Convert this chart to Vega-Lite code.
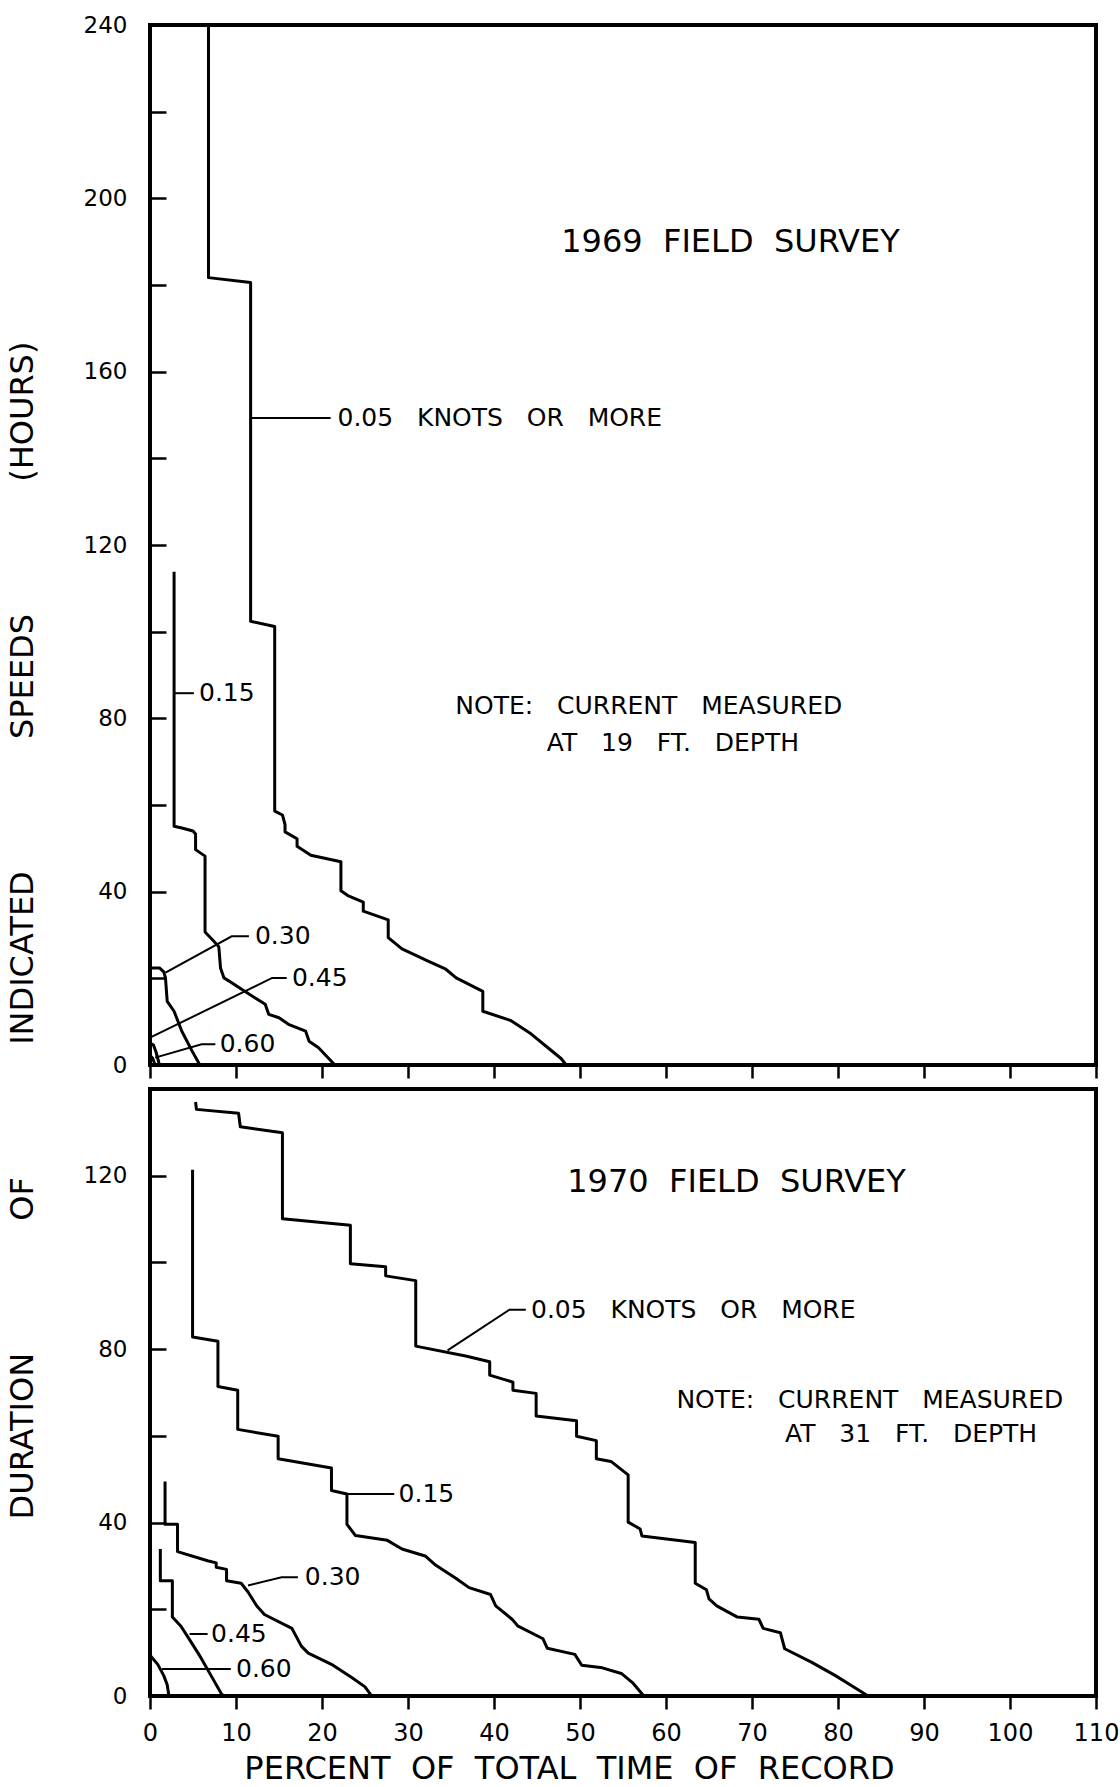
{
  "$schema": "https://vega.github.io/schema/vega-lite/v6.json",
  "background": "white",
  "padding": {"left": 4, "top": 12, "right": 0, "bottom": 0},
  "spacing": 24,
  "bounds": "flush",
  "config": {
    "view": {"stroke": "black", "strokeWidth": 4},
    "axis": {"domain": false, "grid": false, "tickColor": "black", "tickWidth": 2.5, "labelColor": "black", "labelFont": "DejaVu Sans", "labelFontSize": 23, "labelFlush": false, "labelOverlap": false, "titleColor": "black", "titleFont": "DejaVu Sans", "titleFontWeight": "normal"},
    "text": {"font": "DejaVu Sans", "color": "black"},
    "line": {"color": "black"}
  },
  "datasets": {
    "c69": [
      {"s":"0.05","x":6.8,"y":240},{"s":"0.05","x":6.8,"y":181.7},{"s":"0.05","x":11.7,"y":180.6},{"s":"0.05","x":11.7,"y":102.4},{"s":"0.05","x":14.5,"y":101.2},{"s":"0.05","x":14.5,"y":58.6},{"s":"0.05","x":15.4,"y":57.7},{"s":"0.05","x":15.7,"y":55.5},{"s":"0.05","x":15.7,"y":53.8},{"s":"0.05","x":17.1,"y":52.2},{"s":"0.05","x":17.1,"y":50.5},{"s":"0.05","x":18.7,"y":48.4},{"s":"0.05","x":22.2,"y":46.9},{"s":"0.05","x":22.2,"y":40.2},{"s":"0.05","x":23.0,"y":39.1},{"s":"0.05","x":24.8,"y":37.6},{"s":"0.05","x":24.8,"y":35.5},{"s":"0.05","x":27.7,"y":33.5},{"s":"0.05","x":27.7,"y":29.4},{"s":"0.05","x":29.3,"y":26.8},{"s":"0.05","x":32.4,"y":23.9},{"s":"0.05","x":34.4,"y":22.1},{"s":"0.05","x":35.6,"y":20.1},{"s":"0.05","x":38.7,"y":17.0},{"s":"0.05","x":38.7,"y":12.4},{"s":"0.05","x":41.9,"y":10.3},{"s":"0.05","x":44.3,"y":7.2},{"s":"0.05","x":46.2,"y":4.1},{"s":"0.05","x":47.8,"y":1.5},{"s":"0.05","x":48.4,"y":0},
      {"s":"0.15","x":2.8,"y":113.8},{"s":"0.15","x":2.8,"y":55.1},{"s":"0.15","x":3.7,"y":54.7},{"s":"0.15","x":5.0,"y":54.0},{"s":"0.15","x":5.3,"y":53.3},{"s":"0.15","x":5.3,"y":49.7},{"s":"0.15","x":6.4,"y":48.2},{"s":"0.15","x":6.4,"y":30.7},{"s":"0.15","x":7.4,"y":28.6},{"s":"0.15","x":8.0,"y":27.3},{"s":"0.15","x":8.2,"y":22.4},{"s":"0.15","x":8.6,"y":20.1},{"s":"0.15","x":9.5,"y":19.0},{"s":"0.15","x":10.7,"y":17.4},{"s":"0.15","x":13.4,"y":14.0},{"s":"0.15","x":13.8,"y":11.7},{"s":"0.15","x":15.0,"y":10.9},{"s":"0.15","x":16.1,"y":9.4},{"s":"0.15","x":18.1,"y":7.8},{"s":"0.15","x":18.5,"y":5.5},{"s":"0.15","x":19.6,"y":4.0},{"s":"0.15","x":21.5,"y":0},
      {"s":"0.30","x":0,"y":22.4},{"s":"0.30","x":1.1,"y":22.4},{"s":"0.30","x":1.6,"y":21.5},{"s":"0.30","x":1.8,"y":20.1},{"s":"0.30","x":2.0,"y":14.7},{"s":"0.30","x":2.8,"y":12.4},{"s":"0.30","x":3.7,"y":7.8},{"s":"0.30","x":4.9,"y":3.2},{"s":"0.30","x":5.8,"y":0},
      {"s":"0.45","x":0,"y":5.1},{"s":"0.45","x":0.4,"y":4.6},{"s":"0.45","x":0.7,"y":3.0},{"s":"0.45","x":1.1,"y":0},
      {"s":"0.60","x":0,"y":2.2},{"s":"0.60","x":0.3,"y":1.6},{"s":"0.60","x":0.6,"y":0}
    ],
    "l69": [
      {"id":"a","x":11.7,"y":149.3},{"id":"a","x":21.0,"y":149.3},
      {"id":"b","x":2.8,"y":85.8},{"id":"b","x":5.1,"y":85.8},
      {"id":"c","x":1.8,"y":21.3},{"id":"c","x":9.5,"y":29.7},{"id":"c","x":11.5,"y":29.7},
      {"id":"d","x":0,"y":6.3},{"id":"d","x":14.2,"y":20.1},{"id":"d","x":15.9,"y":20.1},
      {"id":"e","x":0.6,"y":1.7},{"id":"e","x":6.0,"y":4.8},{"id":"e","x":7.6,"y":4.8}
    ],
    "t69": [
      {"k":"label","t":"0.05\u00a0\u00a0 KNOTS\u00a0\u00a0 OR\u00a0\u00a0 MORE","x":21.8,"y":149.3},
      {"k":"label","t":"0.15","x":5.7,"y":85.8},
      {"k":"label","t":"0.30","x":12.2,"y":29.7},
      {"k":"label","t":"0.45","x":16.5,"y":20.1},
      {"k":"label","t":"0.60","x":8.1,"y":4.8},
      {"k":"note","t":"NOTE:\u00a0\u00a0 CURRENT\u00a0\u00a0 MEASURED","x":58.0,"y":82.8},
      {"k":"note","t":"AT\u00a0\u00a0 19\u00a0\u00a0 FT.\u00a0\u00a0 DEPTH","x":60.8,"y":74.4},
      {"k":"title","t":"1969\u00a0 FIELD\u00a0 SURVEY","x":67.5,"y":190}
    ],
    "c70": [
      {"s":"0.05","x":5.3,"y":137.0},{"s":"0.05","x":5.4,"y":135.3},{"s":"0.05","x":10.3,"y":134.4},{"s":"0.05","x":10.5,"y":131.3},{"s":"0.05","x":15.4,"y":129.9},{"s":"0.05","x":15.4,"y":110.1},{"s":"0.05","x":23.3,"y":108.6},{"s":"0.05","x":23.3,"y":99.7},{"s":"0.05","x":27.4,"y":99.0},{"s":"0.05","x":27.4,"y":96.9},{"s":"0.05","x":30.9,"y":95.8},{"s":"0.05","x":30.9,"y":80.7},{"s":"0.05","x":36.7,"y":78.4},{"s":"0.05","x":39.5,"y":77.1},{"s":"0.05","x":39.5,"y":74.0},{"s":"0.05","x":42.2,"y":72.4},{"s":"0.05","x":42.2,"y":70.5},{"s":"0.05","x":44.9,"y":69.8},{"s":"0.05","x":44.9,"y":64.6},{"s":"0.05","x":49.6,"y":63.5},{"s":"0.05","x":49.6,"y":59.9},{"s":"0.05","x":51.9,"y":58.9},{"s":"0.05","x":51.9,"y":54.7},{"s":"0.05","x":53.6,"y":54.1},{"s":"0.05","x":55.6,"y":51.0},{"s":"0.05","x":55.6,"y":40.1},{"s":"0.05","x":57.0,"y":38.5},{"s":"0.05","x":57.2,"y":36.9},{"s":"0.05","x":63.4,"y":35.4},{"s":"0.05","x":63.4,"y":26.0},{"s":"0.05","x":64.7,"y":24.5},{"s":"0.05","x":65.0,"y":22.4},{"s":"0.05","x":65.9,"y":20.8},{"s":"0.05","x":68.3,"y":18.2},{"s":"0.05","x":70.8,"y":17.7},{"s":"0.05","x":71.3,"y":15.6},{"s":"0.05","x":73.3,"y":14.6},{"s":"0.05","x":73.8,"y":10.9},{"s":"0.05","x":76.9,"y":7.8},{"s":"0.05","x":79.7,"y":4.7},{"s":"0.05","x":82.2,"y":1.6},{"s":"0.05","x":83.5,"y":0},
      {"s":"0.15","x":4.95,"y":121.4},{"s":"0.15","x":4.95,"y":82.8},{"s":"0.15","x":7.9,"y":81.8},{"s":"0.15","x":7.9,"y":71.4},{"s":"0.15","x":10.2,"y":70.5},{"s":"0.15","x":10.2,"y":61.5},{"s":"0.15","x":14.9,"y":59.9},{"s":"0.15","x":14.9,"y":54.7},{"s":"0.15","x":21.1,"y":52.6},{"s":"0.15","x":21.1,"y":47.4},{"s":"0.15","x":22.9,"y":46.6},{"s":"0.15","x":22.9,"y":39.6},{"s":"0.15","x":23.9,"y":37.0},{"s":"0.15","x":27.6,"y":35.9},{"s":"0.15","x":29.3,"y":33.9},{"s":"0.15","x":32.0,"y":32.3},{"s":"0.15","x":33.2,"y":30.2},{"s":"0.15","x":35.6,"y":27.1},{"s":"0.15","x":37.1,"y":25.0},{"s":"0.15","x":39.6,"y":23.4},{"s":"0.15","x":40.2,"y":20.8},{"s":"0.15","x":42.1,"y":17.7},{"s":"0.15","x":42.8,"y":16.1},{"s":"0.15","x":45.7,"y":13.2},{"s":"0.15","x":46.2,"y":11.0},{"s":"0.15","x":49.4,"y":9.6},{"s":"0.15","x":50.2,"y":7.1},{"s":"0.15","x":52.6,"y":6.5},{"s":"0.15","x":54.8,"y":5.2},{"s":"0.15","x":56.1,"y":3.1},{"s":"0.15","x":57.2,"y":0.5},{"s":"0.15","x":57.5,"y":0},
      {"s":"0.30","x":1.75,"y":49.5},{"s":"0.30","x":1.75,"y":39.6},{"s":"0.30","x":3.2,"y":39.6},{"s":"0.30","x":3.2,"y":33.3},{"s":"0.30","x":6.7,"y":31.2},{"s":"0.30","x":7.7,"y":30.7},{"s":"0.30","x":7.7,"y":29.7},{"s":"0.30","x":8.9,"y":29.2},{"s":"0.30","x":8.9,"y":26.6},{"s":"0.30","x":10.6,"y":26.0},{"s":"0.30","x":11.4,"y":24.0},{"s":"0.30","x":12.4,"y":20.8},{"s":"0.30","x":13.3,"y":18.8},{"s":"0.30","x":16.5,"y":15.6},{"s":"0.30","x":17.6,"y":11.5},{"s":"0.30","x":18.4,"y":9.9},{"s":"0.30","x":21.1,"y":7.3},{"s":"0.30","x":23.5,"y":4.2},{"s":"0.30","x":25.0,"y":2.1},{"s":"0.30","x":25.6,"y":0.5},{"s":"0.30","x":25.8,"y":0},
      {"s":"0.45","x":1.2,"y":33.9},{"s":"0.45","x":1.2,"y":26.6},{"s":"0.45","x":2.6,"y":26.6},{"s":"0.45","x":2.6,"y":18.2},{"s":"0.45","x":3.6,"y":16.1},{"s":"0.45","x":4.6,"y":13.0},{"s":"0.45","x":5.9,"y":8.9},{"s":"0.45","x":7.1,"y":4.7},{"s":"0.45","x":8.3,"y":0.5},{"s":"0.45","x":8.6,"y":0},
      {"s":"0.60","x":0,"y":9.4},{"s":"0.60","x":0.9,"y":7.3},{"s":"0.60","x":1.6,"y":4.7},{"s":"0.60","x":2.0,"y":2.6},{"s":"0.60","x":2.2,"y":0}
    ],
    "l70": [
      {"id":"a","x":34.6,"y":79.7},{"id":"a","x":41.8,"y":89.1},{"id":"a","x":43.7,"y":89.1},
      {"id":"b","x":22.9,"y":46.6},{"id":"b","x":28.4,"y":46.6},
      {"id":"c","x":11.4,"y":25.5},{"id":"c","x":15.3,"y":27.4},{"id":"c","x":17.2,"y":27.4},
      {"id":"d","x":4.6,"y":14.3},{"id":"d","x":6.7,"y":14.3},
      {"id":"e","x":1.4,"y":6.2},{"id":"e","x":9.4,"y":6.2}
    ],
    "t70": [
      {"k":"label","t":"0.05\u00a0\u00a0 KNOTS\u00a0\u00a0 OR\u00a0\u00a0 MORE","x":44.3,"y":89.1},
      {"k":"label","t":"0.15","x":28.9,"y":46.6},
      {"k":"label","t":"0.30","x":18.0,"y":27.4},
      {"k":"label","t":"0.45","x":7.1,"y":14.3},
      {"k":"label","t":"0.60","x":10.0,"y":6.2},
      {"k":"note","t":"NOTE:\u00a0\u00a0 CURRENT\u00a0\u00a0 MEASURED","x":83.7,"y":68.2},
      {"k":"note","t":"AT\u00a0\u00a0 31\u00a0\u00a0 FT.\u00a0\u00a0 DEPTH","x":88.5,"y":60.4},
      {"k":"title","t":"1970\u00a0 FIELD\u00a0 SURVEY","x":68.2,"y":118.5}
    ]
  },
  "vconcat": [
    {
      "width": 946,
      "height": 1040,
      "encoding": {
        "x": {"field": "x", "type": "quantitative", "scale": {"domain": [0, 110], "nice": false, "zero": false},
              "axis": {"values": [0,10,20,30,40,50,60,70,80,90,100,110], "labels": false, "tickSize": 13, "title": null}},
        "y": {"field": "y", "type": "quantitative", "scale": {"domain": [0, 240], "nice": false},
              "axis": {"values": [0,20,40,60,80,100,120,140,160,180,200,220,240], "tickSize": -16, "labelPadding": 39,
                       "labelExpr": "datum.value % 40 === 0 ? datum.label : ''",
                       "title": "DURATION \u00a0\u00a0\u00a0\u00a0\u00a0\u00a0\u00a0\u00a0\u00a0\u00a0\u00a0\u00a0OF \u00a0\u00a0\u00a0\u00a0\u00a0\u00a0\u00a0\u00a0\u00a0\u00a0\u00a0\u00a0INDICATED \u00a0\u00a0\u00a0\u00a0\u00a0\u00a0\u00a0\u00a0\u00a0\u00a0\u00a0\u00a0SPEEDS \u00a0\u00a0\u00a0\u00a0\u00a0\u00a0\u00a0\u00a0\u00a0\u00a0\u00a0\u00a0(HOURS)",
                       "titleAngle": -90, "titleX": -128, "titleY": 905, "titleAlign": "center", "titleBaseline": "middle", "titleFontSize": 32}}
      },
      "layer": [
        {"data": {"name": "c69"}, "mark": {"type": "line", "strokeWidth": 3, "strokeJoin": "round"}, "encoding": {"detail": {"field": "s"}, "order": {"value": null}}},
        {"data": {"name": "l69"}, "mark": {"type": "line", "strokeWidth": 2}, "encoding": {"detail": {"field": "id"}, "order": {"value": null}}},
        {"data": {"name": "t69"}, "transform": [{"filter": "datum.k === 'label'"}], "mark": {"type": "text", "align": "left", "baseline": "middle", "fontSize": 25}, "encoding": {"text": {"field": "t"}}},
        {"data": {"name": "t69"}, "transform": [{"filter": "datum.k === 'note'"}], "mark": {"type": "text", "align": "center", "baseline": "middle", "fontSize": 25}, "encoding": {"text": {"field": "t"}}},
        {"data": {"name": "t69"}, "transform": [{"filter": "datum.k === 'title'"}], "mark": {"type": "text", "align": "center", "baseline": "middle", "fontSize": 32}, "encoding": {"text": {"field": "t"}}}
      ]
    },
    {
      "width": 946,
      "height": 607,
      "encoding": {
        "x": {"field": "x", "type": "quantitative", "scale": {"domain": [0, 110], "nice": false, "zero": false},
              "axis": {"values": [0,10,20,30,40,50,60,70,80,90,100,110], "tickSize": 13, "labelPadding": 12, "labelFontSize": 24,
                       "title": "PERCENT\u00a0 OF\u00a0 TOTAL\u00a0 TIME\u00a0 OF\u00a0 RECORD", "titleFontSize": 32, "titleX": 419, "titleY": 82, "titleAlign": "center", "titleBaseline": "alphabetic"}},
        "y": {"field": "y", "type": "quantitative", "scale": {"domain": [0, 140], "nice": false},
              "axis": {"values": [0,20,40,60,80,100,120,140], "tickSize": -16, "labelPadding": 39,
                       "labelExpr": "datum.value % 40 === 0 ? datum.label : ''", "title": null}}
      },
      "layer": [
        {"data": {"name": "c70"}, "mark": {"type": "line", "strokeWidth": 3, "strokeJoin": "round"}, "encoding": {"detail": {"field": "s"}, "order": {"value": null}}},
        {"data": {"name": "l70"}, "mark": {"type": "line", "strokeWidth": 2}, "encoding": {"detail": {"field": "id"}, "order": {"value": null}}},
        {"data": {"name": "t70"}, "transform": [{"filter": "datum.k === 'label'"}], "mark": {"type": "text", "align": "left", "baseline": "middle", "fontSize": 25}, "encoding": {"text": {"field": "t"}}},
        {"data": {"name": "t70"}, "transform": [{"filter": "datum.k === 'note'"}], "mark": {"type": "text", "align": "center", "baseline": "middle", "fontSize": 25}, "encoding": {"text": {"field": "t"}}},
        {"data": {"name": "t70"}, "transform": [{"filter": "datum.k === 'title'"}], "mark": {"type": "text", "align": "center", "baseline": "middle", "fontSize": 32}, "encoding": {"text": {"field": "t"}}}
      ]
    }
  ]
}
